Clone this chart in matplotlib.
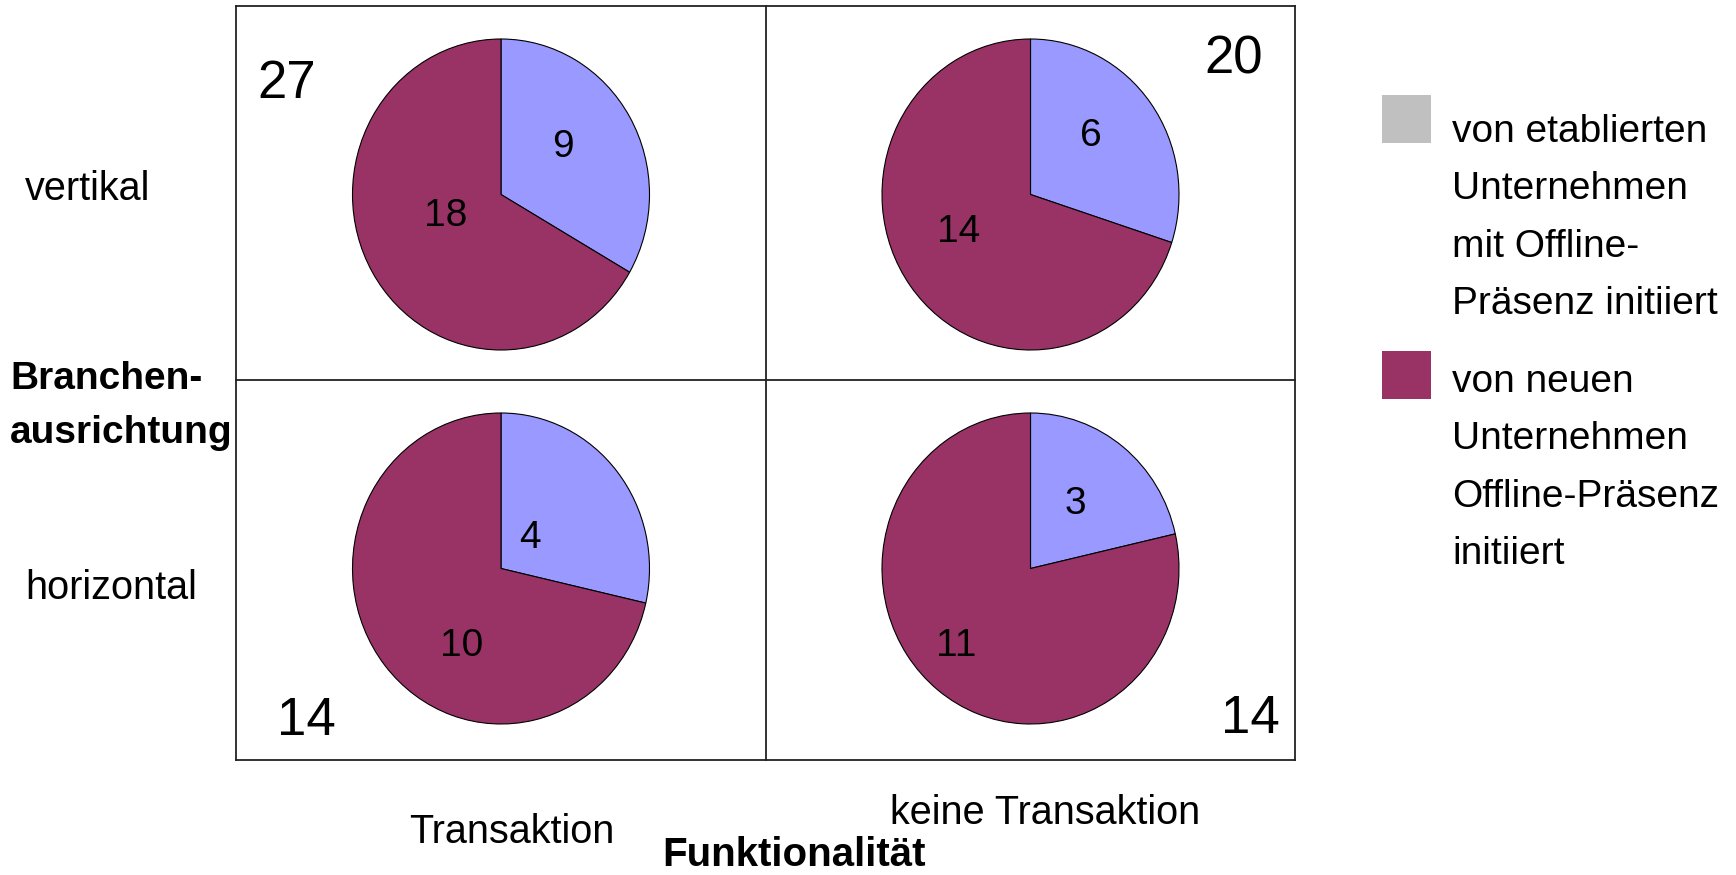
import matplotlib
matplotlib.use('Agg')
import matplotlib.pyplot as plt
from matplotlib.patches import Rectangle
from matplotlib.lines import Line2D

# ---------------- data ----------------
rows = ['vertikal', 'horizontal']
columns = ['Transaktion', 'keine Transaktion']
# cell order: (vertikal, Transaktion), (vertikal, keine), (horizontal, Transaktion), (horizontal, keine)
etabliert = [9, 6, 4, 3]
neu = [18, 14, 10, 11]
legend_labels = [
    ['von etablierten', 'Unternehmen', 'mit Offline-', 'Präsenz initiiert'],
    ['von neuen', 'Unternehmen', 'Offline-Präsenz', 'initiiert'],
]
row_title = ['Branchen-', 'ausrichtung']
col_title = 'Funktionalität'

# ---------------- style / layout ----------------
W, H = 1736, 875
BLUE = '#9999FF'
MAROON = '#993366'
GREY = '#C0C0C0'
plt.rcParams['font.family'] = ['Liberation Sans Narrow', 'Liberation Sans', 'DejaVu Sans']

fig = plt.figure(figsize=(W / 100, H / 100), dpi=100)


def fx(x):
    return x / W


def fy(y):
    return 1 - y / H


# grid box (pixel coords, y from top)
X0, XM, X1 = 236, 766, 1295
Y0, YM, Y1 = 5.5, 379.5, 760
col_centers = [(X0 + XM) / 2, (XM + X1) / 2]
row_centers = [194.5, 568.5]
RX, RY = 148.5, 155.5

line_kw = dict(color='#222222', linewidth=1.3, transform=fig.transFigure)
for (xa, ya, xb, yb) in [(X0, Y0, X1, Y0), (X0, Y1, X1, Y1), (X0, Y0, X0, Y1),
                         (X1, Y0, X1, Y1), (XM, Y0, XM, Y1), (X0, YM, X1, YM)]:
    fig.add_artist(Line2D([fx(xa), fx(xb)], [fy(ya), fy(yb)], **line_kw))

# label offsets in pixels from pie centre (etabliert, neu)
label_offsets = [((61.5, -51.5), (-55, 18)),
                 ((60.6, -62), (-72, 34)),
                 ((29, -35), (-39, 73.5)),
                 ((45, -68), (-74, 74))]
# total label positions (centre x, baseline y) in pixels
total_pos = [(286.5, 97.5), (1233.5, 74), (306, 735), (1250.5, 733)]

for i in range(4):
    r, c = divmod(i, 2)
    cx, cy = col_centers[c], row_centers[r]
    ax = fig.add_axes([fx(cx - RX), fy(cy + RY), 2 * RX / W, 2 * RY / H])
    wedges, _ = ax.pie([etabliert[i], neu[i]], colors=[BLUE, MAROON], startangle=90,
                       counterclock=False,
                       wedgeprops=dict(edgecolor='black', linewidth=0.8))
    for w in wedges:
        w.set_clip_on(False)
    ax.set_aspect('auto')
    ax.set_xlim(-1, 1)
    ax.set_ylim(-1, 1)
    ax.axis('off')
    for val, (dx, dy) in zip([etabliert[i], neu[i]], label_offsets[i]):
        ax.text(dx / RX, -dy / RY, str(val), fontsize=28, ha='center',
                va='center_baseline', color='black')
    tx, ty = total_pos[i]
    fig.text(fx(tx), fy(ty), str(etabliert[i] + neu[i]), fontsize=38,
             ha='center', va='baseline')

# row labels
fig.text(fx(25), fy(200), rows[0], fontsize=28.5, ha='left', va='baseline')
fig.text(fx(25), fy(599), rows[1], fontsize=28.5, ha='left', va='baseline')
# column labels
fig.text(fx(512), fy(843), columns[0], fontsize=28.5, ha='center', va='baseline')
fig.text(fx(1045), fy(824), columns[1], fontsize=28.5, ha='center', va='baseline')
# axis titles
fig.text(fx(10), fy(389), row_title[0], fontsize=28, fontweight='bold',
         ha='left', va='baseline')
fig.text(fx(10), fy(443), row_title[1], fontsize=28, fontweight='bold',
         ha='left', va='baseline')
fig.text(fx(794), fy(874.5), col_title, fontsize=29, fontweight='bold',
         ha='center', va='bottom')

# legend
legend_colors = [GREY, MAROON]
patch_top = [95, 351]
first_base = [142, 392]
LS = 57.3
for k in range(2):
    fig.add_artist(Rectangle((fx(1382), fy(patch_top[k] + 48)), 49 / W, 48 / H,
                             transform=fig.transFigure, facecolor=legend_colors[k],
                             edgecolor='none'))
    for j, line in enumerate(legend_labels[k]):
        fig.text(fx(1452), fy(first_base[k] + j * LS), line, fontsize=28,
                 ha='left', va='baseline')

fig.savefig('out.png', dpi=100, facecolor='white')
